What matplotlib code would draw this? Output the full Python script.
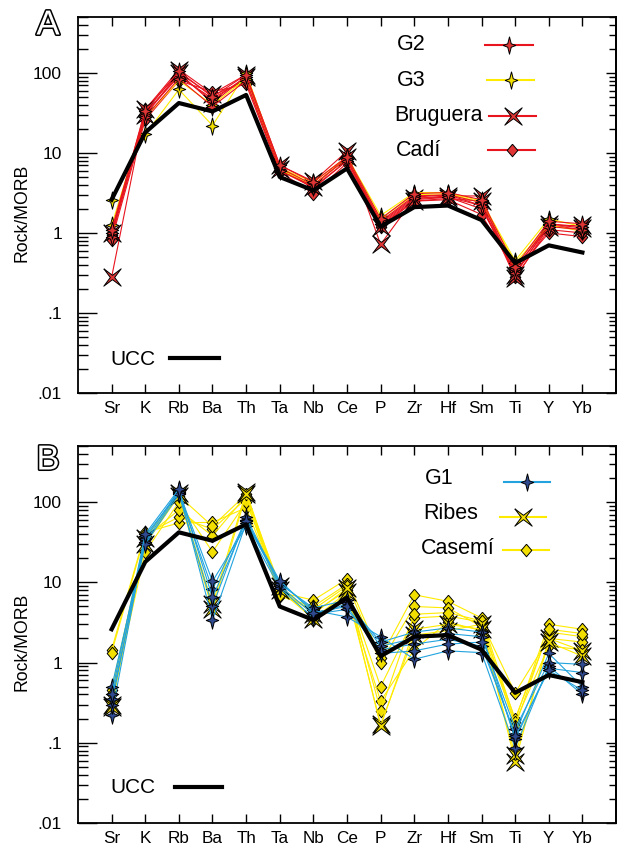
import numpy as np
import matplotlib
matplotlib.use("Agg")
import matplotlib.pyplot as plt
import matplotlib.patheffects as pe
from matplotlib.ticker import FixedLocator, FixedFormatter, LogLocator, NullFormatter

plt.rcParams['font.family'] = ['Liberation Sans', 'DejaVu Sans']

elements = ['Sr', 'K', 'Rb', 'Ba', 'Th', 'Ta', 'Nb', 'Ce', 'P', 'Zr', 'Hf', 'Sm', 'Ti', 'Y', 'Yb']
ucc = [2.6, 18, 42, 33, 53, 5.0, 3.4, 6.4, 1.2, 2.1, 2.2, 1.45, 0.42, 0.7, 0.57]

# panel A
g2 = [
    [1.0, 30, 95, 45, 90, 6.5, 4.0, 8.5, 1.4, 2.9, 3.0, 2.4, 0.35, 1.3, 1.2],
    [0.9, 28, 85, 38, 80, 6.0, 3.7, 8.0, 1.3, 2.7, 2.8, 2.2, 0.32, 1.2, 1.1],
    [1.1, 33, 105, 50, 95, 7.0, 4.3, 9.0, 1.5, 3.1, 3.2, 2.6, 0.38, 1.4, 1.3],
]
g3 = [
    [2.6, 17, 62, 22, 100, 6.5, 4.3, 9.0, 1.65, 3.2, 3.2, 2.5, 0.45, 1.5, 1.2],
    [1.25, 28, 80, 40, 85, 6.2, 4.0, 8.5, 1.5, 3.0, 3.1, 2.4, 0.42, 1.25, 1.05],
]
bruguera = [
    [0.28, 35, 110, 55, 95, 7.0, 4.4, 10.5, 0.72, 2.7, 2.9, 2.9, 0.27, 1.2, 1.25],
    [1.0, 30, 100, 42, 90, 6.3, 3.8, 9.0, 1.2, 2.5, 2.7, 2.5, 0.30, 1.3, 1.15],
]
cadi = [
    [0.82, 26, 80, 58, 72, 5.8, 3.1, 7.5, 1.2, 2.5, 2.6, 1.7, 0.33, 1.0, 0.9],
    [0.95, 32, 90, 48, 85, 6.5, 3.6, 8.0, 1.35, 2.8, 3.0, 2.2, 0.28, 1.1, 1.0],
    [1.0, 35, 100, 52, 80, 6.0, 3.9, 8.8, 1.25, 2.6, 2.8, 2.0, 0.36, 1.25, 1.1],
]

# panel B
g1 = [
    [0.22, 35, 140, 3.4, 55, 10, 4.5, 3.7, 2.1, 1.1, 1.4, 1.33, 0.087, 0.9, 0.4],
    [0.30, 38, 130, 8.2, 60, 9, 4.0, 4.6, 1.45, 1.7, 1.95, 1.6, 0.13, 1.3, 0.5],
    [0.49, 32, 135, 10.3, 50, 8.5, 3.6, 5.5, 1.8, 2.4, 2.7, 2.4, 0.11, 0.85, 0.75],
    [0.35, 30, 125, 5.0, 65, 9.5, 4.8, 6.0, 1.6, 2.0, 2.3, 2.1, 0.15, 1.0, 0.95],
    [0.40, 40, 145, 6.5, 58, 10.5, 4.2, 5.0, 1.3, 1.4, 1.7, 1.8, 0.12, 0.8, 0.45],
]
ribes = [
    [0.30, 30, 130, 5.3, 135, 8, 3.5, 7.5, 0.17, 2.2, 2.5, 3.0, 0.058, 2.0, 1.4],
    [0.28, 36, 120, 4.6, 125, 9, 4.0, 8.5, 0.16, 2.6, 3.0, 2.6, 0.07, 1.8, 1.2],
]
casemi = [
    [1.45, 42, 55, 56, 85, 7.5, 6.0, 11, 1.15, 7.0, 5.8, 3.6, 0.19, 3.0, 2.6],
    [1.33, 40, 65, 46, 110, 6.7, 5.0, 9.5, 1.0, 5.0, 4.8, 2.8, 0.2, 2.4, 2.1],
    [0.46, 36, 80, 38, 120, 8, 4.2, 8, 0.5, 3.6, 3.8, 3.2, 0.42, 2.0, 1.8],
    [0.33, 24, 100, 24, 100, 9, 3.4, 7, 0.33, 1.45, 3.2, 2.5, 0.18, 1.6, 1.45],
    [0.40, 30, 120, 50, 125, 7, 4.6, 9, 0.25, 4.0, 4.2, 3.3, 0.16, 2.6, 2.3],
]

RED = '#e8141e'
RED_F = '#e03535'
YEL = '#ffeb00'
YEL_F = '#f2df00'
BLUE = '#22a3de'
BLUE_F = '#2f4a8f'

star = [(0, 1), (0.2, 0.2), (0.72, 0), (0.2, -0.2), (0, -1), (-0.2, -0.2),
        (-0.72, 0), (-0.2, 0.2), (0, 1)]
cross = [(-1, 1), (0, 0.25), (1, 1), (0.25, 0), (1, -1), (0, -0.25), (-1, -1),
         (-0.25, 0), (-1, 1)]
diamond = [(0, 1), (0.85, 0), (0, -1), (-0.85, 0), (0, 1)]

x = np.arange(1, len(elements) + 1)

fig = plt.figure(figsize=(6.18, 8.47), dpi=100)
axA = fig.add_axes([0.1262, 0.536, 0.8706, 0.444])
axB = fig.add_axes([0.1262, 0.0283, 0.8706, 0.4451])


def style(ax):
    ax.set_yscale('log')
    ax.set_ylim(0.01, 500)
    ax.set_xlim(0, 16)
    ax.set_xticks(x)
    ax.set_xticklabels(elements, fontsize=12.3)
    ax.yaxis.set_major_locator(FixedLocator([0.01, 0.1, 1, 10, 100]))
    ax.yaxis.set_major_formatter(FixedFormatter(['.01', '.1', '1', '10', '100']))
    ax.yaxis.set_minor_locator(LogLocator(base=10, subs=np.arange(2, 10)))
    ax.yaxis.set_minor_formatter(NullFormatter())
    ax.tick_params(axis='x', direction='in', top=True, bottom=True, length=6.5, width=1, pad=6)
    ax.tick_params(axis='y', which='major', direction='in', left=True, right=False,
                   length=13.5, width=1, pad=11.5, labelsize=12.5)
    ax.tick_params(axis='y', which='minor', direction='in', left=True, right=False,
                   length=7, width=1)
    for s in ax.spines.values():
        s.set_linewidth(1.3)
    sec = ax.secondary_yaxis('right')
    sec.yaxis.set_major_locator(FixedLocator([0.01, 0.1, 1, 10, 100]))
    sec.yaxis.set_minor_locator(LogLocator(base=10, subs=np.arange(2, 10)))
    sec.tick_params(which='major', direction='in', length=7, width=1, labelright=False)
    sec.tick_params(which='minor', direction='in', length=5, width=1, labelright=False)
    sec.spines['right'].set_linewidth(1.3)
    ax.set_ylabel('Rock/MORB', fontsize=12.7)
    ax.yaxis.set_label_coords(-0.088, 0.48)


def draw(ax, samples, lc, fc, mk, ms):
    for s in samples:
        ax.plot(x, s, color=lc, lw=0.8, marker=mk, ms=ms, mfc=fc, mec='black', mew=0.7)


def legend_entry(ax, label, tx, ty, lx0, lx1, ly, lc, fc, mk, ms):
    ax.text(tx, ty, label, transform=ax.transAxes, fontsize=15.5, va='center', ha='left')
    ax.plot([lx0, lx1], [ly, ly], transform=ax.transAxes, color=lc, lw=1.5, clip_on=False)
    ax.plot([(lx0 + lx1) / 2], [ly], transform=ax.transAxes, linestyle='none', marker=mk,
            ms=ms, mfc=fc, mec='black', mew=0.7, clip_on=False)


def ucc_entry(ax, ty, lx0, lx1):
    ax.text(0.061, ty, 'UCC', transform=ax.transAxes, fontsize=15, va='center', ha='left')
    ax.plot([lx0, lx1], [ty + 0.003, ty + 0.003], transform=ax.transAxes, color='black', lw=3)


# Panel A
style(axA)
draw(axA, cadi, RED, RED_F, diamond, 9)
draw(axA, bruguera, RED, RED_F, cross, 12.5)
draw(axA, g3, YEL, YEL_F, star, 12.5)
draw(axA, g2, RED, RED_F, star, 12.5)
axA.plot(x, ucc, color='black', lw=3, zorder=3)
legend_entry(axA, 'G2', 0.593, 0.928, 0.757, 0.845, 0.926, RED, RED_F, star, 12.5)
legend_entry(axA, 'G3', 0.593, 0.832, 0.760, 0.848, 0.831, YEL, YEL_F, star, 12.5)
legend_entry(axA, 'Bruguera', 0.587, 0.737, 0.764, 0.852, 0.737, RED, RED_F, cross, 12.5)
legend_entry(axA, 'Cadí', 0.591, 0.644, 0.762, 0.850, 0.646, RED, RED_F, diamond, 9)
ucc_entry(axA, 0.090, 0.171, 0.262)

# Panel B
style(axB)
draw(axB, casemi, YEL, YEL_F, diamond, 9)
draw(axB, ribes, YEL, YEL_F, cross, 12.5)
draw(axB, g1, BLUE, BLUE_F, star, 12.5)
axB.plot(x, ucc, color='black', lw=3, zorder=3)
legend_entry(axB, 'G1', 0.645, 0.915, 0.792, 0.877, 0.905, BLUE, BLUE_F, star, 12.5)
legend_entry(axB, 'Ribes', 0.641, 0.820, 0.784, 0.870, 0.812, YEL, YEL_F, cross, 12.5)
legend_entry(axB, 'Casemí', 0.638, 0.727, 0.790, 0.875, 0.724, YEL, YEL_F, diamond, 9)
ucc_entry(axB, 0.093, 0.180, 0.268)

# panel letters
for lab, yy in [('A', 1 - 25 / 847), ('B', 1 - 460 / 847)]:
    fig.text(48 / 618, yy, lab, fontsize=25, color='white', ha='center', va='center',
             path_effects=[pe.withStroke(linewidth=2.2, foreground='black')])

fig.savefig('out.png', dpi=100)
